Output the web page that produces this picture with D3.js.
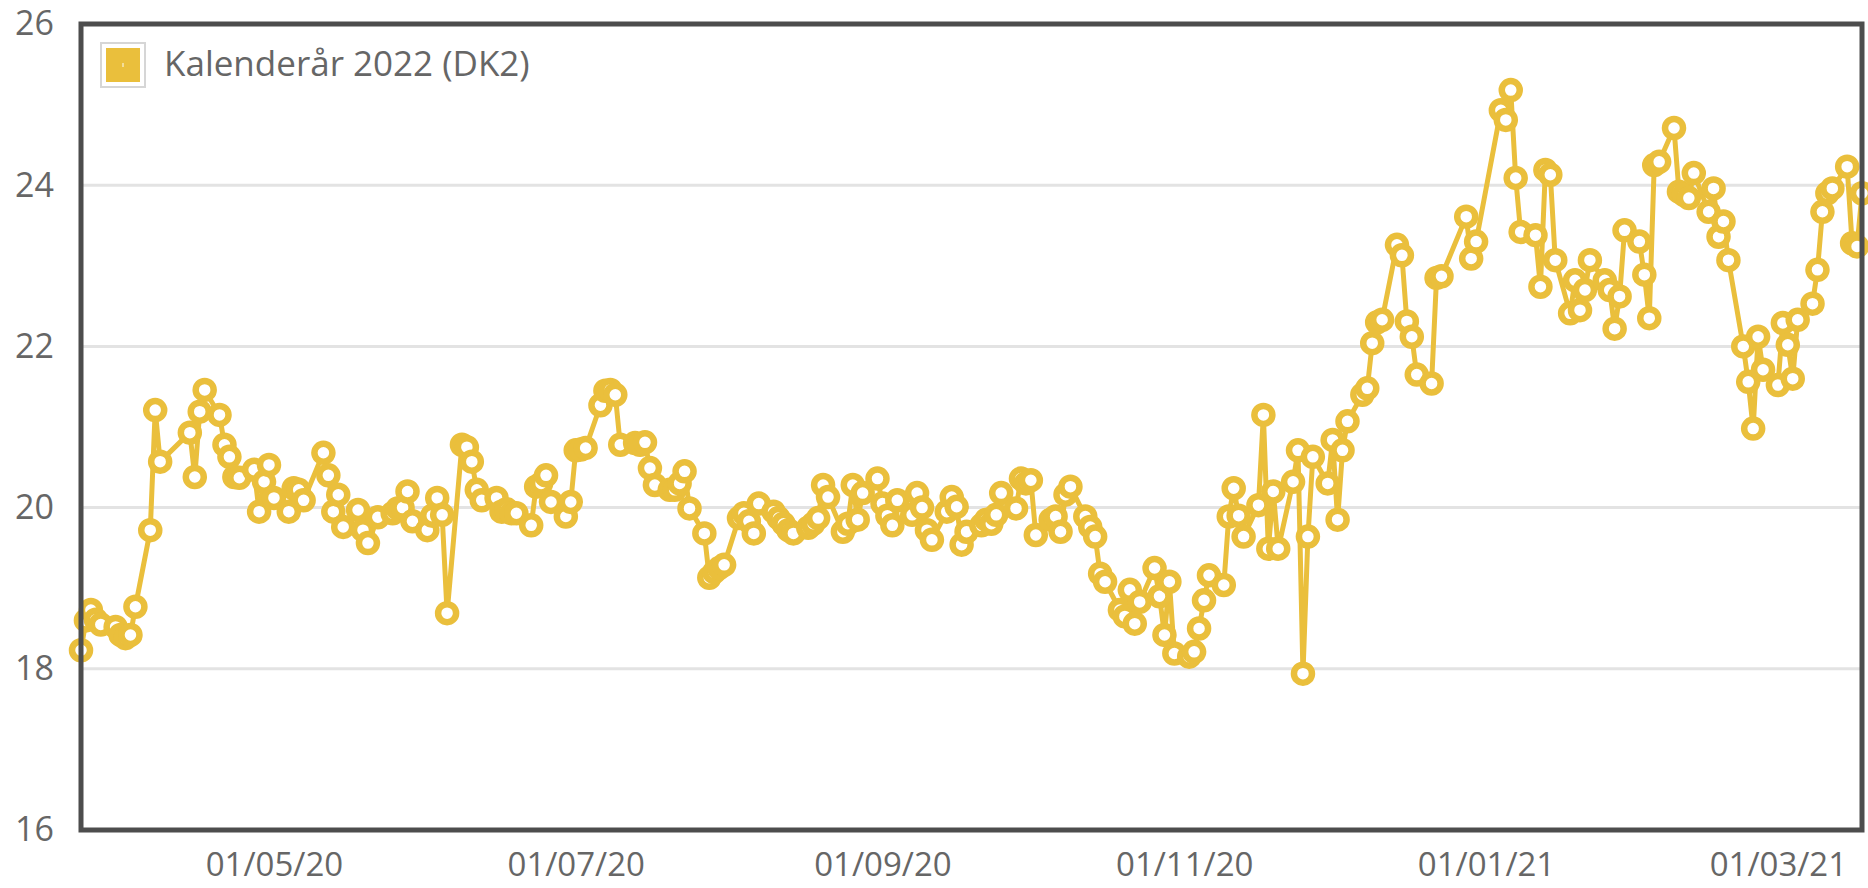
<!DOCTYPE html>
<html>
<head>
<meta charset="utf-8">
<script src="https://cdn.jsdelivr.net/npm/d3@7"></script>
<style>
  html, body { margin: 0; padding: 0; background: #ffffff; }
  svg { display: block; }
  text { font-family: "Open Sans", "DejaVu Sans", sans-serif; fill: #666666; }
</style>
</head>
<body>
<svg id="chart" width="1868" height="888"></svg>
<script>
// ---- Data ----
const seriesName = "Kalenderår 2022 (DK2)";

const dates = [
  "2020-03-23","2020-03-24","2020-03-25","2020-03-26","2020-03-27",
  "2020-03-30","2020-03-31","2020-04-01","2020-04-02","2020-04-03",
  "2020-04-06","2020-04-07","2020-04-08",
  "2020-04-14","2020-04-15","2020-04-16","2020-04-17",
  "2020-04-20","2020-04-21","2020-04-22","2020-04-23","2020-04-24",
  "2020-04-27","2020-04-28","2020-04-29","2020-04-30","2020-05-01",
  "2020-05-04","2020-05-05","2020-05-06","2020-05-07",
  "2020-05-11","2020-05-12","2020-05-13","2020-05-14","2020-05-15",
  "2020-05-18","2020-05-19","2020-05-20","2020-05-22",
  "2020-05-25","2020-05-26","2020-05-27","2020-05-28","2020-05-29",
  "2020-06-01","2020-06-02","2020-06-03","2020-06-04","2020-06-05",
  "2020-06-08","2020-06-09","2020-06-10","2020-06-11","2020-06-12",
  "2020-06-15","2020-06-16","2020-06-17","2020-06-18","2020-06-19",
  "2020-06-22","2020-06-23","2020-06-24","2020-06-25","2020-06-26",
  "2020-06-29","2020-06-30","2020-07-01","2020-07-02","2020-07-03",
  "2020-07-06","2020-07-07","2020-07-08","2020-07-09","2020-07-10",
  "2020-07-13","2020-07-14","2020-07-15","2020-07-16","2020-07-17",
  "2020-07-20","2020-07-21","2020-07-22","2020-07-23","2020-07-24",
  "2020-07-27","2020-07-28","2020-07-29","2020-07-30","2020-07-31",
  "2020-08-03","2020-08-04","2020-08-05","2020-08-06","2020-08-07",
  "2020-08-10","2020-08-11","2020-08-12","2020-08-13","2020-08-14",
  "2020-08-17","2020-08-18","2020-08-19","2020-08-20","2020-08-21",
  "2020-08-24","2020-08-25","2020-08-26","2020-08-27","2020-08-28",
  "2020-08-31","2020-09-01","2020-09-02","2020-09-03","2020-09-04",
  "2020-09-07","2020-09-08","2020-09-09","2020-09-10","2020-09-11",
  "2020-09-14","2020-09-15","2020-09-16","2020-09-17","2020-09-18",
  "2020-09-21","2020-09-22","2020-09-23","2020-09-24","2020-09-25",
  "2020-09-28","2020-09-29","2020-09-30","2020-10-01","2020-10-02",
  "2020-10-05","2020-10-06","2020-10-07","2020-10-08","2020-10-09",
  "2020-10-12","2020-10-13","2020-10-14","2020-10-15","2020-10-16",
  "2020-10-19","2020-10-20","2020-10-21","2020-10-22","2020-10-23",
  "2020-10-26","2020-10-27","2020-10-28","2020-10-29","2020-10-30",
  "2020-11-02","2020-11-03","2020-11-04","2020-11-05","2020-11-06",
  "2020-11-09","2020-11-10","2020-11-11","2020-11-12","2020-11-13",
  "2020-11-16","2020-11-17","2020-11-18","2020-11-19","2020-11-20",
  "2020-11-23","2020-11-24","2020-11-25","2020-11-26","2020-11-27",
  "2020-11-30","2020-12-01","2020-12-02","2020-12-03","2020-12-04",
  "2020-12-07","2020-12-08","2020-12-09","2020-12-10","2020-12-11",
  "2020-12-14","2020-12-15","2020-12-16","2020-12-17","2020-12-18",
  "2020-12-21","2020-12-22","2020-12-23",
  "2020-12-28","2020-12-29","2020-12-30",
  "2021-01-04","2021-01-05","2021-01-06","2021-01-07","2021-01-08",
  "2021-01-11","2021-01-12","2021-01-13","2021-01-14","2021-01-15",
  "2021-01-18","2021-01-19","2021-01-20","2021-01-21","2021-01-22",
  "2021-01-25","2021-01-26","2021-01-27","2021-01-28","2021-01-29",
  "2021-02-01","2021-02-02","2021-02-03","2021-02-04","2021-02-05",
  "2021-02-08","2021-02-09","2021-02-10","2021-02-11","2021-02-12",
  "2021-02-15","2021-02-16","2021-02-17","2021-02-18","2021-02-19",
  "2021-02-22","2021-02-23","2021-02-24","2021-02-25","2021-02-26",
  "2021-03-01","2021-03-02","2021-03-03","2021-03-04","2021-03-05",
  "2021-03-08","2021-03-09","2021-03-10","2021-03-11","2021-03-12",
  "2021-03-15","2021-03-16","2021-03-17","2021-03-18"
];

const values = [
  18.23, 18.60, 18.73, 18.61, 18.55,
  18.52, 18.42, 18.38, 18.42, 18.77,
  19.72, 21.21, 20.57,
  20.93, 20.38, 21.19, 21.46,
  21.15, 20.78, 20.63, 20.38, 20.37,
  20.47, 19.95, 20.32, 20.53, 20.12,
  19.95, 20.24, 20.22, 20.09,
  20.68, 20.40, 19.95, 20.16, 19.76,
  19.97, 19.72, 19.56, 19.88,
  19.93, 19.99, 20.00, 20.20, 19.83,
  19.72, 19.90, 20.12, 19.91, 18.69,
  20.78, 20.75, 20.57, 20.22, 20.09,
  20.12, 19.95, 19.98, 19.93, 19.93,
  19.78, 20.26, 20.30, 20.40, 20.07,
  19.89, 20.07, 20.71, 20.72, 20.74,
  21.27, 21.45, 21.46, 21.40, 20.78,
  20.80, 20.78, 20.81, 20.49, 20.28,
  20.22, 20.22, 20.30, 20.45, 19.99,
  19.68, 19.13, 19.20, 19.25, 19.29,
  19.87, 19.93, 19.83, 19.68, 20.05,
  19.95, 19.87, 19.80, 19.72, 19.68,
  19.75, 19.80, 19.87, 20.28, 20.13,
  19.70, 19.80, 20.28, 19.85, 20.18,
  20.36, 20.05, 19.90, 19.78, 20.09,
  19.91, 20.18, 20.00, 19.72, 19.60,
  19.95, 20.13, 20.01, 19.54, 19.70,
  19.78, 19.85, 19.80, 19.91, 20.18,
  19.99, 20.36, 20.30, 20.34, 19.66,
  19.85, 19.89, 19.70, 20.16, 20.26,
  19.89, 19.76, 19.64, 19.18, 19.08,
  18.73, 18.65, 18.98, 18.56, 18.83,
  19.25, 18.90, 18.42, 19.08, 18.19,
  18.15, 18.21, 18.50, 18.85, 19.16,
  19.04, 19.89, 20.24, 19.90, 19.64,
  20.03, 21.15, 19.49, 20.20, 19.49,
  20.32, 20.71, 17.94, 19.64, 20.63,
  20.30, 20.84, 19.85, 20.71, 21.07,
  21.40, 21.48, 22.04, 22.30, 22.33,
  23.26, 23.13, 22.31, 22.12, 21.65,
  21.54, 22.85, 22.87,
  23.61, 23.09, 23.30,
  24.93, 24.81, 25.18, 24.09, 23.42,
  23.38, 22.74, 24.19, 24.13, 23.07,
  22.41, 22.82, 22.45, 22.70, 23.07,
  22.82, 22.70, 22.22, 22.62, 23.44,
  23.30, 22.89, 22.35, 24.25, 24.29,
  24.71, 23.92, 23.88, 23.84, 24.15,
  23.67, 23.96, 23.36, 23.55, 23.07,
  22.00, 21.56, 20.98, 22.12, 21.71,
  21.52, 22.29, 22.02, 21.60, 22.33,
  22.53, 22.95, 23.67, 23.90, 23.96,
  24.23, 23.28, 23.24, 23.90
];

const yTicks = [16, 18, 20, 22, 24, 26];
const xTickDates = ["2020-05-01", "2020-07-01", "2020-09-01", "2020-11-01", "2021-01-01", "2021-03-01"];

// ---- Layout ----
const W = 1868, H = 888;
const plot = { left: 81, right: 1862, top: 24, bottom: 830 };
const colorLine = "#EABF3C";

const parse = d3.timeParse("%Y-%m-%d");
const data = dates.map((d, i) => ({ date: parse(d), value: values[i] }));

const svg = d3.select("#chart");

const x = d3.scaleTime()
  .domain(d3.extent(data, d => d.date))
  .range([plot.left, plot.right]);

const y = d3.scaleLinear()
  .domain([16, 26])
  .range([plot.bottom, plot.top]);

// background
svg.append("rect").attr("x", 0).attr("y", 0).attr("width", W).attr("height", H).attr("fill", "#ffffff");

// gridlines
svg.append("g")
  .selectAll("line")
  .data(yTicks)
  .join("line")
  .attr("x1", plot.left).attr("x2", plot.right)
  .attr("y1", d => y(d)).attr("y2", d => y(d))
  .attr("stroke", "#e3e3e3")
  .attr("stroke-width", 3);

// y axis labels
const yAxis = svg.append("g")
  .attr("transform", `translate(${plot.left},0)`)
  .call(d3.axisLeft(y).tickValues(yTicks).tickFormat(d3.format("d")).tickSize(0).tickPadding(27));
yAxis.select(".domain").remove();
yAxis.selectAll("text")
  .style("font-family", '"Open Sans", sans-serif')
  .style("font-size", "34px")
  .attr("fill", "#666666");

// x axis labels
const xAxis = svg.append("g")
  .attr("transform", `translate(0,${plot.bottom})`)
  .call(d3.axisBottom(x)
    .tickValues(xTickDates.map(parse))
    .tickFormat(d3.timeFormat("%d/%m/%y"))
    .tickSize(0)
    .tickPadding(23));
xAxis.select(".domain").remove();
xAxis.selectAll("text")
  .style("font-family", '"Open Sans", sans-serif')
  .style("font-size", "33px")
  .attr("fill", "#666666");

// line
const line = d3.line()
  .x(d => x(d.date))
  .y(d => y(d.value));

svg.append("path")
  .datum(data)
  .attr("fill", "none")
  .attr("stroke", colorLine)
  .attr("stroke-width", 5)
  .attr("stroke-linejoin", "round")
  .attr("d", line);

// markers
svg.append("g")
  .selectAll("circle")
  .data(data)
  .join("circle")
  .attr("cx", d => x(d.date))
  .attr("cy", d => y(d.value))
  .attr("r", 9)
  .attr("fill", "#ffffff")
  .attr("stroke", colorLine)
  .attr("stroke-width", 6.5);

// frame
svg.append("rect")
  .attr("x", plot.left).attr("y", plot.top)
  .attr("width", plot.right - plot.left)
  .attr("height", plot.bottom - plot.top)
  .attr("fill", "none")
  .attr("stroke", "#4d4d4d")
  .attr("stroke-width", 5);

// legend
const lg = svg.append("g");
lg.append("rect")
  .attr("x", 101).attr("y", 43).attr("width", 44).attr("height", 44)
  .attr("fill", "#ffffff").attr("stroke", "#d6d6d6").attr("stroke-width", 2);
lg.append("rect")
  .attr("x", 106).attr("y", 48).attr("width", 34).attr("height", 34)
  .attr("fill", colorLine);
lg.append("line")
  .attr("x1", 123).attr("x2", 123).attr("y1", 63).attr("y2", 67)
  .attr("stroke", "#f6e7b8").attr("stroke-width", 1.5);
lg.append("text")
  .attr("x", 164).attr("y", 76)
  .style("font-size", "35px")
  .attr("fill", "#666666")
  .text(seriesName);
</script>
</body>
</html>
